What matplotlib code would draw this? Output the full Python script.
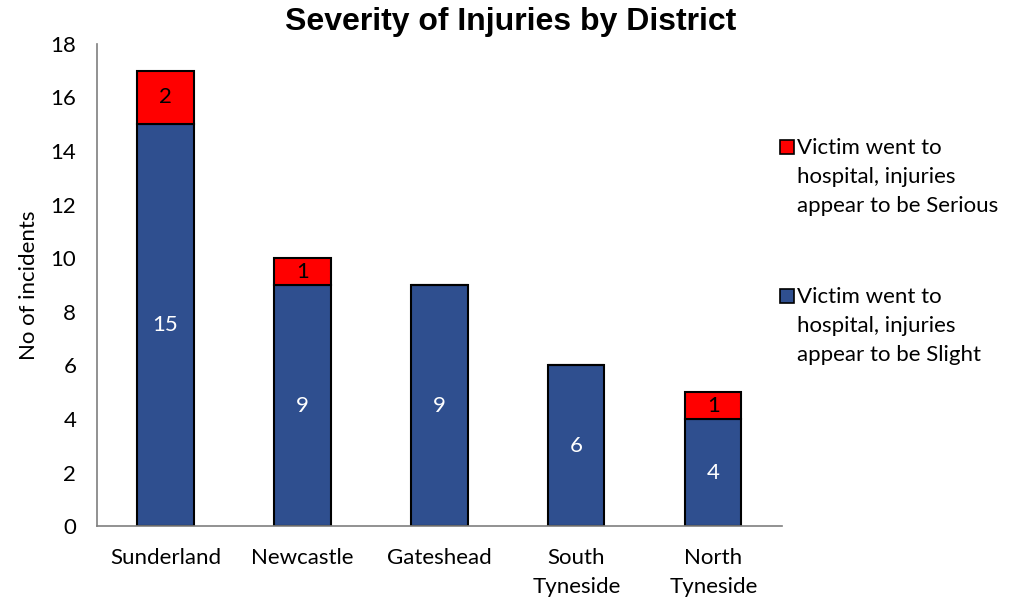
import numpy as np
import matplotlib.pyplot as plt
from matplotlib.patches import Rectangle

# Data
districts = ['Sunderland', 'Newcastle', 'Gateshead', 'South\nTyneside', 'North\nTyneside']
slight = [15, 9, 9, 6, 4]
serious = [2, 1, 0, 0, 1]

lab_slight = 'Victim went to\nhospital, injuries\nappear to be Slight'
lab_serious = 'Victim went to\nhospital, injuries\nappear to be Serious'

blue = '#2f4f8f'
red = '#ff0000'
font = ['Lato', 'DejaVu Sans']
fs = 16

plt.rcParams['font.family'] = font

fig = plt.figure(figsize=(10.22, 6), dpi=100)
ax = fig.add_axes([0.095, 0.123, 0.67, 0.804])

x = np.arange(len(districts))
w = 0.41
b1 = ax.bar(x, slight, w, color=blue, edgecolor='black', linewidth=1.5)
b2 = ax.bar(x, serious, w, bottom=slight, color=red, edgecolor='black', linewidth=1.5)

# value labels
for i in range(len(x)):
    ax.text(x[i], slight[i] / 2, str(slight[i]), ha='center', va='center',
            color='white', fontsize=fs)
    if serious[i] > 0:
        ax.text(x[i], slight[i] + serious[i] / 2, str(serious[i]), ha='center',
                va='center', color='black', fontsize=fs)

ax.set_xlim(-0.5, len(x) - 0.5)
ax.set_ylim(0, 18)
ax.set_yticks(np.arange(0, 19, 2))
ax.set_xticks(x)
ax.set_xticklabels(districts, fontsize=fs, linespacing=1.55)
ax.tick_params(axis='y', labelsize=fs, length=0, pad=15)
ax.tick_params(axis='x', length=0, pad=16)

for s in ['top', 'right']:
    ax.spines[s].set_visible(False)
for s in ['left', 'bottom']:
    ax.spines[s].set_color('#7f7f7f')
    ax.spines[s].set_linewidth(1.2)

ax.set_ylabel('No of incidents', fontsize=fs, labelpad=8)
fig.text(0.5, 1 - 22 / 600, 'Severity of Injuries by District', fontsize=23,
         fontweight='bold', family=['Liberation Sans', 'DejaVu Sans'],
         ha='center', va='center')

# legend drawn by hand (Excel style: square beside first line)
leg_items = [(red, lab_serious, 147), (blue, lab_slight, 296)]
for col, lab, ypx in leg_items:
    yf = 1 - ypx / 600
    fig.patches.append(Rectangle((780 / 1022, yf - 7 / 600), 14 / 1022, 14 / 600,
                                 transform=fig.transFigure, facecolor=col,
                                 edgecolor='black', linewidth=1.2))
    fig.text(797 / 1022, yf + 9 / 600, lab, fontsize=fs, va='top', ha='left',
             linespacing=1.55)

fig.savefig('out.png', dpi=100)
